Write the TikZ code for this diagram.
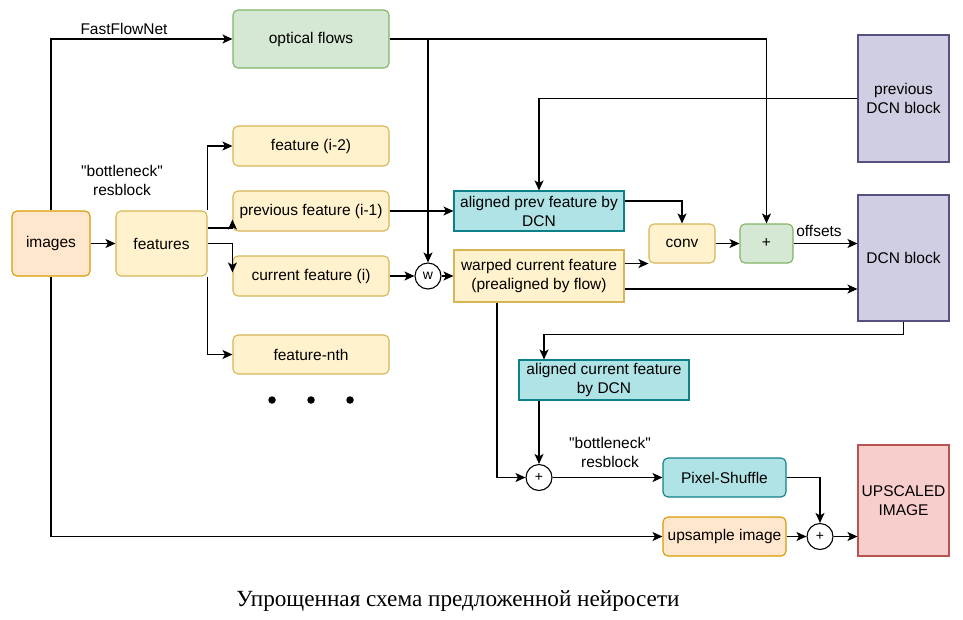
\documentclass[tikz,border=0pt]{standalone}
\usepackage{fontspec}
\setmainfont{Liberation Sans}
\newfontfamily\capfont{Liberation Serif}
\usetikzlibrary{arrows.meta}

\definecolor{featfill}{HTML}{FFF2CC}
\definecolor{featline}{HTML}{D6B656}
\definecolor{imgfill}{HTML}{FFE6CC}
\definecolor{imgline}{HTML}{D79B00}
\definecolor{flowfill}{HTML}{D5E8D4}
\definecolor{flowline}{HTML}{82B366}
\definecolor{dcnfill}{HTML}{B0E3E6}
\definecolor{dcnline}{HTML}{0E8088}
\definecolor{blkfill}{HTML}{D0CEE2}
\definecolor{blkline}{HTML}{56517E}
\definecolor{outfill}{HTML}{F8CECC}
\definecolor{outline}{HTML}{B85450}

\tikzset{
  blk/.style={draw, line width=1.1pt, align=center, inner sep=0pt,
    font=\fontsize{15.5}{19}\selectfont},
  rblk/.style={blk, rounded corners=5pt},
  feat/.style={rblk, fill=featfill, draw=featline},
  imgbox/.style={rblk, fill=imgfill, draw=imgline},
  flowbox/.style={rblk, fill=flowfill, draw=flowline},
  dcnbox/.style={blk, fill=dcnfill, draw=dcnline},
  dcnblk/.style={blk, fill=blkfill, draw=blkline},
  outbox/.style={blk, fill=outfill, draw=outline},
  opcirc/.style={circle, draw, line width=1.1pt, fill=white, inner sep=0pt,
    minimum size=26pt, font=\fontsize{14}{16}\selectfont},
  lbl/.style={align=center, inner sep=0pt, font=\fontsize{15.5}{19}\selectfont},
  dotnode/.style={circle, fill=black, inner sep=0pt, minimum size=7.5pt},
  arr/.style={-{Stealth[length=10pt,width=9pt,inset=2.5pt]}, line width=1.2pt},
}

\begin{document}
\begin{tikzpicture}[x=1pt,y=-1pt]
  \useasboundingbox (0,0) rectangle (963,619);

  % input and features
  \node [imgbox, minimum width=78pt, minimum height=65pt] (images) at (51,243.5) {images};
  \node [feat, minimum width=91pt, minimum height=65pt] (features) at (161.5,243.5) {features};
  \node [flowbox, minimum width=156pt, minimum height=58pt] (optical) at (311,39) {optical flows};

  \node [feat, minimum width=156pt, minimum height=40pt] (feat2) at (311,146) {feature (i-2)};
  \node [feat, minimum width=156pt, minimum height=40pt] (prevf) at (311,211) {previous feature (i-1)};
  \node [feat, minimum width=156pt, minimum height=40pt] (curf) at (311,276) {current feature (i)};
  \node [feat, minimum width=156pt, minimum height=39pt] (featn) at (311,354.5) {feature-nth};
  \foreach \i/\x in {1/272,2/311,3/350}
    \node [dotnode] (dot\i) at (\x,400) {};

  % alignment
  \node [opcirc] (wnode) at (428,276) {w};
  \node [dcnbox, minimum width=170pt, minimum height=40pt] (alprev) at (539,211) {aligned prev feature by\\DCN};
  \node [feat, rounded corners=0pt, minimum width=170pt, minimum height=52pt] (warp) at (539,276) {warped current feature\\(prealigned by flow)};
  \node [feat, minimum width=66pt, minimum height=39pt] (conv) at (682,243.5) {conv};
  \node [flowbox, minimum width=53pt, minimum height=39pt] (plus) at (766.5,243.5) {+};
  \node [dcnblk, minimum width=91pt, minimum height=127pt] (prevdcn) at (903.5,98.5) {previous\\DCN block};
  \node [dcnblk, minimum width=91pt, minimum height=126pt] (dcn) at (903.5,258) {DCN block};
  \node [dcnbox, minimum width=170pt, minimum height=40pt] (alcur) at (604,380) {aligned current feature\\by DCN};

  % reconstruction
  \node [opcirc] (sumA) at (539,477.5) {+};
  \node [dcnbox, rounded corners=5pt, minimum width=123pt, minimum height=39pt] (pixsh) at (724.5,477.5) {Pixel-Shuffle};
  \node [imgbox, minimum width=123pt, minimum height=39pt] (upsm) at (724.5,536.5) {upsample image};
  \node [opcirc] (sumB) at (820,536.5) {+};
  \node [outbox, minimum width=91pt, minimum height=111pt] (upsc) at (903.5,500.5) {UPSCALED\\IMAGE};

  % labels
  \node [lbl] (fastlbl) at (124,29) {FastFlowNet};
  \node [lbl] (bnA) at (122,180) {\textquotedbl bottleneck\textquotedbl\\resblock};
  \node [lbl] (offlbl) at (819,231) {offsets};
  \node [lbl] (bnB) at (610,452) {\textquotedbl bottleneck\textquotedbl\\resblock};
  \node [inner sep=0pt, font=\capfont\fontsize{23.2}{27}\selectfont] (caption) at (458,601) {Упрощенная схема предложенной нейросети};

  % connectors
  \draw [arr] (images.north) |- (optical.west);
  \draw [arr] (images) -- (features);
  \draw [arr] (features.north east) |- (feat2.west);
  \draw [arr] ([yshift=15.5pt]features.east) -| ([yshift=12pt]prevf.south west);
  \draw [arr] (features.east) -| ([yshift=-17pt]curf.north west);
  \draw [arr] (features.south east) |- (featn.west);

  \draw [arr] (optical.east) -| (plus.north);
  \draw [arr] (wnode |- optical.east) -- (wnode.north);
  \draw [arr] (prevf) -- (alprev);
  \draw [arr] (curf) -- (wnode);
  \draw [arr] (wnode) -- (warp);
  \draw [arr] (prevdcn.west) -| (alprev.north);
  \draw [arr] ([yshift=10pt]alprev.east) -| (conv.north);
  \draw [arr] (warp.east |- conv.south) -- (conv.south west);
  \draw [arr] ([yshift=-13pt]warp.east) -- ([yshift=-13pt]warp.east -| dcn.west);
  \draw [arr] (conv) -- (plus);
  \draw [arr] (plus) -- (plus -| dcn.west);
  \draw [arr] (dcn.south) |- ++(0,13) -| ([xshift=-60pt]alcur.north);

  \draw [arr] (alcur.south -| sumA) -- (sumA.north);
  \draw [arr] ([xshift=-42pt]warp.south) |- (sumA.west);
  \draw [arr] (sumA) -- (pixsh);
  \draw [arr] (pixsh.east) -| (sumB.north);
  \draw [arr] (images.south) |- (upsm.west);
  \draw [arr] (upsm) -- (sumB);
  \draw [arr] (sumB) -- (sumB -| upsc.west);
\end{tikzpicture}
\end{document}
